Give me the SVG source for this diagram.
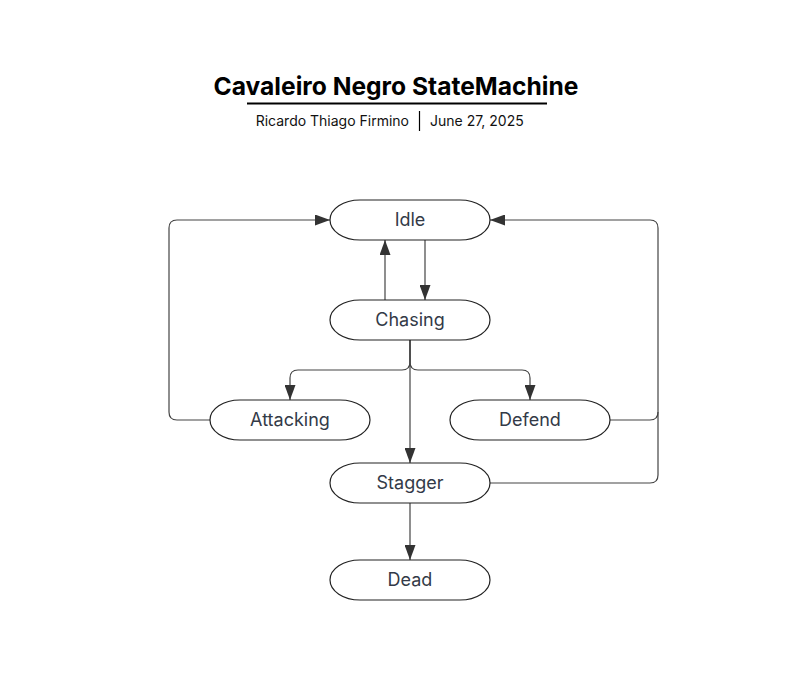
<svg xmlns="http://www.w3.org/2000/svg" width="801" height="698" viewBox="0 0 801 698">
<defs>
<style>
.node path{fill:#fff;stroke:#222;stroke-width:1.2}
.node text{font-family:Inter,"Noto Sans",sans-serif;font-size:18px;fill:#333a47;text-anchor:middle}
.edge{fill:none;stroke:#444;stroke-width:1.2}
.title{font-family:Inter,"Noto Sans",sans-serif;font-weight:700;font-size:24.6px;fill:#000;text-anchor:middle}
.sub{font-family:Inter,"Noto Sans",sans-serif;font-size:14px;fill:#111}
</style>
<marker id="arr" viewBox="0 0 15 11" refX="15" refY="5.5" markerWidth="15" markerHeight="11" markerUnits="userSpaceOnUse" orient="auto">
<path d="M0,0 L15,5.5 L0,11 Z" fill="#333"/>
</marker>
</defs>
<rect width="801" height="698" fill="#fff"/>
<g id="title">
<text class="title" x="396" y="95">Cavaleiro Negro StateMachine</text>
<line x1="247" y1="103.5" x2="547" y2="103.5" stroke="#000" stroke-width="2"/>
<text class="sub" x="409" y="126" text-anchor="end">Ricardo Thiago Firmino</text>
<line x1="419.5" y1="111" x2="419.5" y2="131" stroke="#000" stroke-width="1.2"/>
<text class="sub" x="430" y="126">June 27, 2025</text>
</g>
<g id="connectors">
<path class="edge" d="M425,240 V300" marker-end="url(#arr)"/>
<path class="edge" d="M385,300 V240" marker-end="url(#arr)"/>
<path class="edge" d="M210,420 H177 Q169,420 169,412 V228 Q169,220 177,220 H330" marker-end="url(#arr)"/>
<path class="edge" d="M410,340 V362 Q410,370 402,370 H298 Q290,370 290,378 V400" marker-end="url(#arr)"/>
<path class="edge" d="M410,340 V362 Q410,370 418,370 H522 Q530,370 530,378 V400" marker-end="url(#arr)"/>
<path class="edge" d="M410,340 V463" marker-end="url(#arr)"/>
<path class="edge" d="M610,420 H650 Q658,420 658,412 V228 Q658,220 650,220 H490" marker-end="url(#arr)"/>
<path class="edge" d="M490,483 H650 Q658,483 658,475 V412"/>
<path class="edge" d="M410,503 V560" marker-end="url(#arr)"/>
</g>
<g id="node-idle" class="node">
<path d="M360,200 H460 A30,20 0 0 1 460,240 H360 A30,20 0 0 1 360,200 Z"/>
<text x="410" y="226">Idle</text>
</g>
<g id="node-chasing" class="node">
<path d="M360,300 H460 A30,20 0 0 1 460,340 H360 A30,20 0 0 1 360,300 Z"/>
<text x="410" y="326">Chasing</text>
</g>
<g id="node-attacking" class="node">
<path d="M240,400 H340 A30,20 0 0 1 340,440 H240 A30,20 0 0 1 240,400 Z"/>
<text x="290" y="426">Attacking</text>
</g>
<g id="node-defend" class="node">
<path d="M480,400 H580 A30,20 0 0 1 580,440 H480 A30,20 0 0 1 480,400 Z"/>
<text x="530" y="426">Defend</text>
</g>
<g id="node-stagger" class="node">
<path d="M360,463 H460 A30,20 0 0 1 460,503 H360 A30,20 0 0 1 360,463 Z"/>
<text x="410" y="489">Stagger</text>
</g>
<g id="node-dead" class="node">
<path d="M360,560 H460 A30,20 0 0 1 460,600 H360 A30,20 0 0 1 360,560 Z"/>
<text x="410" y="586">Dead</text>
</g>
</svg>
